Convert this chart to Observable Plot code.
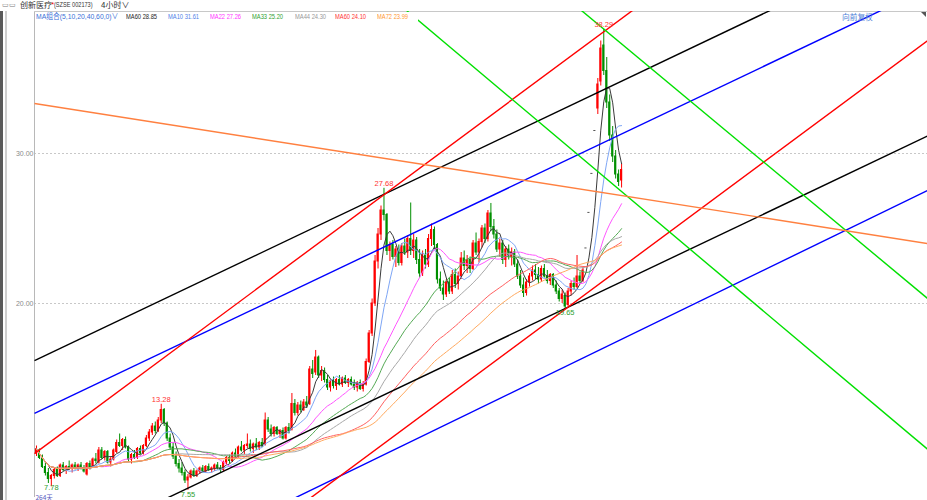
<!DOCTYPE html>
<html><head><meta charset="utf-8">
<script src="https://cdn.jsdelivr.net/npm/d3@7"></script>
<script src="https://cdn.jsdelivr.net/npm/@observablehq/plot@0.6"></script>
<style>
body{margin:0;background:#fff;width:927px;height:500px;overflow:hidden;position:relative;font-family:"Liberation Sans",Arial,"Noto Sans CJK SC",sans-serif}
#title{position:absolute;left:0;top:0;width:927px;height:10px;border-bottom:1px solid #b0b0b0;font-size:8px;line-height:10px;color:#333;white-space:nowrap;overflow:hidden}
#title span{position:absolute;top:0;white-space:nowrap;transform-origin:left center}
#chart{position:absolute;left:0;top:10px}
#legend{position:absolute;left:35px;top:12px;width:383px;height:10px;background:#fff}
.lg{position:absolute;top:0;font-size:8px;line-height:10px;white-space:nowrap;transform-origin:left center;transform:scaleX(0.72)}
#fq{position:absolute;left:842px;top:12px;font-size:7.7px;line-height:10px;color:#4f7fd8;font-family:"Noto Sans CJK SC",sans-serif}
#tri{position:absolute;left:921px;top:12px;width:0;height:0;border-left:5px solid transparent;border-top:5px solid #555}
#lb1{position:absolute;left:0;top:11px;width:2.5px;height:489px;background:#5a5a5a}
#lb2{position:absolute;left:5px;top:11px;width:1.5px;height:489px;background:#cfcfcf}
</style></head>
<body>
<div id="title">
<span style="left:2px;color:#777;font-size:7px">▭▭</span>
<span style="left:20px;font-family:'Noto Sans CJK SC'">创新医疗</span>
<span style="left:51px;color:#e00">*</span>
<span style="left:54px;font-size:7px;transform:scaleX(0.8)">(SZSE 002173)</span>
<span style="left:101px;font-family:'Noto Sans CJK SC'">4小时∨</span>
</div>
<div id="chart"></div>
<div id="lb1"></div><div id="lb2"></div>
<div id="legend"></div>
<div id="fq">向前复权</div>
<div id="tri"></div>
<script>
// ---- data ----
const ohlc = [
[10.0,10.5,9.8,10.3],[10.2,10.3,9.6,9.7],[9.7,9.9,9.0,9.1],[9.1,9.4,8.5,8.7],[8.7,9.0,8.0,8.3],[8.3,8.6,7.78,8.5],
[8.5,9.0,8.3,8.9],[8.9,9.1,8.4,8.5],[8.5,9.3,8.4,9.2],[9.2,9.4,8.8,8.9],[8.9,9.2,8.6,9.1],[9.1,9.5,8.9,9.0],[9.0,9.3,8.7,9.2],
[9.2,9.4,8.9,9.0],[9.0,9.3,8.8,9.2],[9.2,9.4,8.9,9.0],[9.0,9.2,8.7,8.8],[8.6,9.4,8.5,9.3],[9.3,9.5,8.9,9.1],[9.1,9.7,9.0,9.6],[9.6,10.0,9.3,9.5],
[9.4,10.4,9.3,10.2],[10.2,10.4,9.6,9.7],[9.7,10.2,9.5,10.1],[10.1,10.2,9.3,9.4],[9.4,9.8,9.1,9.6],[9.6,10.3,9.5,10.2],
[10.1,10.9,10.0,10.7],[10.7,11.3,10.4,10.5],[10.5,11.0,10.2,10.9],[10.9,11.1,10.3,10.4],
[10.4,10.5,9.4,9.6],[9.6,10.0,9.3,9.9],[9.9,10.2,9.6,9.7],[9.7,10.4,9.6,10.3],[10.3,10.5,9.9,10.0],[10.0,10.6,9.9,10.5],
[10.5,11.2,10.4,11.0],[11.0,11.6,10.8,11.4],[11.4,12.0,11.2,11.8],[11.8,12.1,11.3,11.5],[11.5,12.4,11.4,12.2],[12.2,13.28,12.0,12.9],[12.9,13.0,11.8,12.0],
[12.0,12.1,10.8,11.0],[11.0,11.3,10.2,10.4],[10.4,10.7,9.6,9.8],[9.8,10.1,9.1,9.3],[9.3,9.6,8.7,9.0],[9.0,9.4,8.5,8.7],[8.7,8.9,8.0,8.2],[8.2,8.6,7.55,8.4],
[8.4,8.9,8.3,8.8],[8.8,9.0,8.4,8.5],[8.5,8.9,8.4,8.8],[8.8,9.1,8.6,9.0],[9.0,9.2,8.7,8.8],[8.8,9.2,8.7,9.1],[9.1,9.3,8.8,8.9],
[8.9,9.1,8.7,9.0],[9.0,9.3,8.8,9.2],[9.2,9.4,8.9,9.0],[9.0,9.2,8.7,8.9],[8.9,9.5,8.8,9.4],[9.4,9.8,9.2,9.7],[9.7,9.9,9.3,9.5],
[9.5,10.1,9.4,10.0],[10.0,10.3,9.7,9.8],[9.8,10.5,9.7,10.4],[10.4,10.8,10.1,10.2],[10.2,10.6,9.9,10.5],[10.5,11.3,10.3,10.6],
[10.6,10.9,10.1,10.3],[10.3,10.7,10.0,10.6],[10.6,11.0,10.2,10.4],[10.4,10.8,10.2,10.7],[10.7,11.0,10.4,10.5],
[10.6,12.7,10.5,12.2],[12.2,12.4,11.4,11.6],[11.6,11.9,11.1,11.3],[11.3,11.8,11.1,11.7],[11.7,11.8,11.2,11.3],[11.3,11.6,11.0,11.5],
[11.5,11.7,10.9,11.0],[11.0,11.8,10.9,11.7],[11.7,12.0,11.3,11.5],
[11.6,14.0,11.5,13.3],[13.3,13.6,12.5,12.7],[12.7,13.4,12.5,13.2],[13.2,13.5,12.7,12.9],[12.9,13.6,12.8,13.4],[13.4,13.8,13.0,13.2],
[13.3,15.8,13.2,15.6],[15.6,16.2,15.0,15.3],[15.4,16.87,15.2,16.4],[16.4,16.5,15.0,15.2],[15.2,15.8,14.8,15.5],[15.5,15.7,14.7,14.9],
[14.9,15.2,14.2,14.4],[14.4,14.9,14.1,14.8],[14.8,15.1,14.3,14.5],[14.5,15.0,14.2,14.9],[14.9,15.2,14.5,14.6],[14.6,15.1,14.4,15.0],
[15.0,15.2,14.6,14.7],[14.7,15.0,14.4,14.9],[14.9,15.1,14.5,14.6],[14.6,14.9,14.2,14.4],[14.4,14.8,14.1,14.7],[14.7,14.9,14.2,14.3],[14.3,14.8,14.1,14.6],
[14.6,16.3,14.5,16.1],[16.1,18.2,16.0,18.0],[18.0,20.3,17.8,20.0],[20.0,23.2,19.8,22.8],[22.8,25.0,22.3,24.6],[24.6,26.5,24.2,26.2],[26.2,27.68,25.5,25.9],
[25.9,26.0,23.2,23.5],[23.5,24.1,22.8,23.9],[23.9,24.2,22.9,23.1],[23.1,23.8,22.4,23.6],[23.6,23.9,22.5,22.7],[22.7,24.0,22.5,23.8],
[23.8,24.3,23.2,23.4],[23.4,24.5,23.0,24.3],[24.3,26.7,23.2,23.5],
[23.5,24.6,23.0,24.2],[24.2,24.4,22.6,22.9],[22.9,23.6,21.7,22.0],[22.0,23.5,21.8,23.2],[23.2,23.6,22.3,22.6],[22.6,24.6,22.4,24.3],
[24.3,25.3,23.8,24.9],[24.9,25.1,23.6,23.9],[23.9,24.0,21.3,21.6],
[21.6,22.1,20.8,21.0],[21.0,21.5,20.2,20.6],[20.6,21.6,20.4,21.4],[21.4,21.7,20.6,20.8],[20.8,22.2,20.6,21.9],[21.9,22.3,21.0,21.3],
[21.3,22.1,20.9,21.8],[21.8,23.4,21.6,23.0],
[23.0,23.5,22.2,22.5],[22.5,23.2,22.0,22.9],[22.9,23.1,22.0,22.3],[22.3,24.2,22.2,24.0],[24.0,24.7,23.2,23.4],[23.4,24.3,22.7,24.1],
[24.1,25.2,23.7,25.0],[25.0,25.3,24.0,24.3],[24.3,26.2,24.1,26.0],[26.0,26.67,24.8,25.1],
[25.1,25.6,24.3,24.6],[24.6,24.9,23.4,23.6],[23.6,24.3,23.1,24.0],[24.0,24.2,22.6,22.9],[22.9,23.8,22.4,23.6],[23.6,23.9,22.9,23.1],
[23.1,23.7,22.5,23.4],[23.4,23.6,22.4,22.6],
[22.6,22.9,21.6,21.8],[21.8,22.2,21.0,21.2],[21.2,21.7,20.4,20.7],[20.7,21.6,20.5,21.4],
[21.4,22.0,21.1,21.8],[21.8,22.5,21.5,22.2],[22.2,22.6,21.6,21.9],[21.9,22.4,21.3,21.6],[21.6,22.5,21.4,22.3],[22.3,22.6,21.7,21.8],
[21.8,22.2,21.3,21.5],[21.5,22.0,21.2,21.9],
[21.9,22.0,21.0,21.2],[21.2,21.5,20.6,20.8],[20.8,21.0,20.1,20.3],[20.3,20.9,20.0,20.6],[20.5,20.7,19.65,19.8],
[19.9,21.0,19.8,20.8],[20.8,21.5,20.5,21.3],[21.3,21.7,20.9,21.1],[21.1,23.2,21.0,21.8],[21.8,22.1,21.3,21.5],[21.5,22.4,21.4,22.2],
[23.67,23.67,23.67,23.67],[26.04,26.04,26.04,26.04],[28.64,28.64,28.64,28.64],[31.50,31.50,31.50,31.50],
[33.0,35.0,32.6,34.6],[34.8,37.5,34.5,37.0],[37.2,38.29,35.2,35.5],[35.5,36.4,33.0,33.4],[33.4,33.9,30.8,31.2],
[31.2,31.8,29.4,29.8],[29.8,30.2,28.3,28.6],[28.6,28.9,27.8,28.1],[28.2,29.3,27.7,28.9]
];
const yTicks = [20, 30];
const maWindows = [5, 10, 22, 33, 44, 60, 72];
const maNames = ["MA60", "MA10", "MA22", "MA33", "MA44", "MA60", "MA72"];
const maValues = [28.85, 31.61, 27.26, 25.20, 24.30, 24.10, 23.99];
const maGroupLabel = "MA组合(5,10,20,40,60,0)";
const highLabels = [{i: 42, v: 13.28}, {i: 117, v: 27.68}, {i: 191, v: 38.29}];
const lowLabels = [{i: 5, v: 7.78}, {i: 51, v: 7.55}, {i: 178, v: 19.65}];
const periodLabel = ["264天"];
// trend lines: endpoints as (bar index, price)
const trendLines = [
  {name: "blackUpper", x1: -0.67, y1: 16.19, x2: 300, y2: 44.53},
  {name: "blackLower", x1: -0.67, y1: 2.82, x2: 300, y2: 31.16},
  {name: "blueUpper", x1: -0.67, y1: 12.67, x2: 300, y2: 41.01},
  {name: "blueLower", x1: -0.67, y1: -1.40, x2: 300, y2: 27.53},
  {name: "redUpper", x1: -0.67, y1: 9.99, x2: 300, y2: 54.11},
  {name: "redLower", x1: -0.67, y1: -6.60, x2: 300, y2: 37.52},
  {name: "greenA", x1: -0.67, y1: 60.42, x2: 300, y2: 10.29},
  {name: "greenB", x1: -0.67, y1: 69.87, x2: 300, y2: 20.34},
  {name: "orange", x1: -0.67, y1: 33.33, x2: 300, y2: 24.00}
];

// ---- styles ----
const lineColors = {blackUpper:"#000000", blackLower:"#000000", blueUpper:"#0000ff", blueLower:"#0000ff",
  redUpper:"#ff0000", redLower:"#ff0000", greenA:"#00e000", greenB:"#00e000", orange:"#ff8040"};
const maLineColors = ["#3a3a3a", "#7ea6f5", "#ff55ff", "#55aa55", "#a8a8a8", "#ff6060", "#ffaa60"];
const maTextColors = ["#222222", "#4f7fe8", "#ff33ff", "#2f9f2f", "#999999", "#ff3333", "#ff9933"];
const upColor = "#ff0000", downColor = "#008f00", flatColor = "#555555";
const xDomain = [-0.67, 300];
const yDomain = [7.067, 39.467];

const bars = ohlc.map((d, i) => ({i, o: d[0], h: d[1], l: d[2], c: d[3]}));
const candleColor = d => d.c > d.o ? upColor : d.c < d.o ? downColor : flatColor;

const chart = Plot.plot({
  width: 927, height: 490,
  marginLeft: 34, marginRight: 0, marginTop: 1, marginBottom: 3,
  x: {domain: xDomain, axis: null},
  y: {domain: yDomain},
  color: {type: "identity"},
  style: {fontFamily: "Liberation Sans, Arial, sans-serif", background: "#fff", color: "#8a8a8a", overflow: "hidden"},
  marks: [
    Plot.ruleY(yTicks, {stroke: "#c8c8c8", strokeDasharray: "2,2"}),
    Plot.axisY(yTicks, {tickSize: 0, tickPadding: 1, tickFormat: d3.format(".2f"), fontSize: 7, fill: "#8a8a8a"}),
    Plot.ruleX([xDomain[0]], {stroke: "#b8b8b8"}),
    Plot.ruleY([yDomain[1]], {stroke: "#c8c8c8"}),
    Plot.ruleX(bars, {x: "i", y1: "l", y2: "h", stroke: candleColor, strokeWidth: 1}),
    Plot.rect(bars, {x1: d => d.i - 0.36, x2: d => d.i + 0.36,
      y1: d => Math.min(d.o, d.c), y2: d => Math.max(d.o, d.c),
      fill: candleColor, insetTop: -0.5, insetBottom: -0.5}),
    ...maWindows.map((k, j) => Plot.lineY(bars, Plot.windowY({k, anchor: "end", reduce: "mean"},
      {x: "i", y: "c", stroke: maLineColors[j], strokeWidth: 1}))),
    Plot.link(trendLines, {x1: "x1", y1: "y1", x2: "x2", y2: "y2",
      stroke: d => lineColors[d.name], strokeWidth: 1.4, clip: true}),
    Plot.text(highLabels, {x: "i", y: "v", text: d => d.v.toFixed(2), dy: -5, fill: "#ff3333", fontSize: 7.5}),
    Plot.text(lowLabels.slice(1), {x: "i", y: "v", text: d => d.v.toFixed(2), lineAnchor: "top", dy: 1,
      fill: "#2f9f2f", fontSize: 7.5}),
    Plot.text(lowLabels.slice(0, 1), {x: "i", y: "v", text: d => d.v.toFixed(2), lineAnchor: "top", dy: -2,
      fill: "#2f9f2f", fontSize: 7.5}),
    Plot.text(periodLabel, {frameAnchor: "bottom-left", text: d => d, lineAnchor: "bottom", dx: 1, dy: 2,
      fill: "#5a5ac0", fontSize: 6.5, fontFamily: "Noto Sans CJK SC, sans-serif"})
  ]
});
document.getElementById("chart").appendChild(chart);

// legend row
const legend = document.getElementById("legend");
const legendX = [126, 168, 210, 252, 295, 335, 377];
function addSpan(text, left, color, scale) {
  const s = document.createElement("span");
  s.className = "lg";
  s.textContent = text;
  s.style.left = (left - 35) + "px";
  s.style.color = color;
  if (scale) s.style.transform = "scaleX(" + scale + ")";
  legend.appendChild(s);
}
addSpan(maGroupLabel + "∨", 36, "#3a6fd8", 0.85);
maNames.forEach((n, j) => addSpan(n + " " + maValues[j].toFixed(2), legendX[j], maTextColors[j]));
</script>
</body></html>
